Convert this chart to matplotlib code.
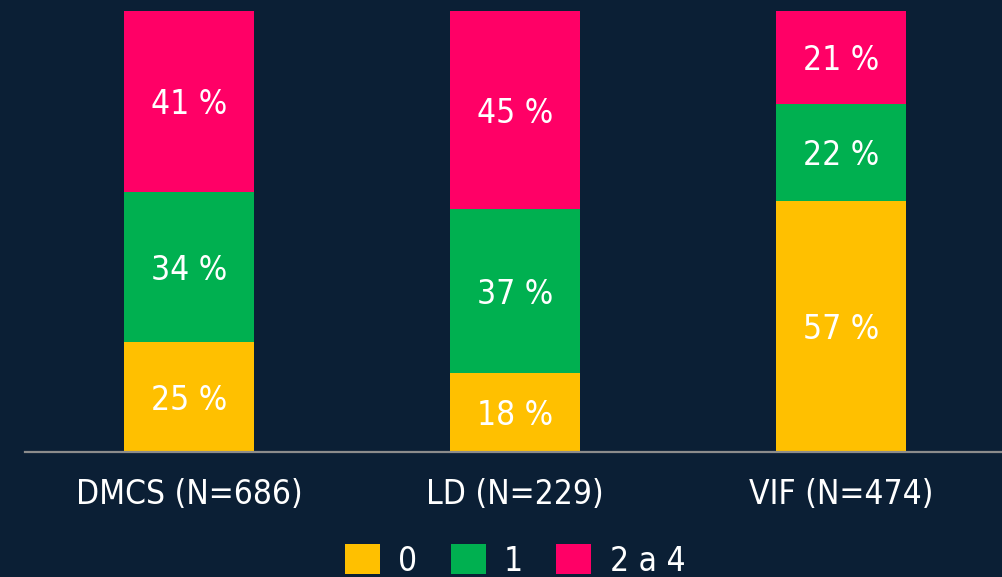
import matplotlib
matplotlib.use("Agg")
import matplotlib.pyplot as plt
from matplotlib.patches import Patch

categories = ["DMCS (N=686)", "LD (N=229)", "VIF (N=474)"]
series_names = ["0", "1", "2 a 4"]
vals_0 = [25, 18, 57]
vals_1 = [34, 37, 22]
vals_2a4 = [41, 45, 21]
colors = ["#FFC000", "#00B050", "#FF0066"]
bg = "#0B1F35"

plt.rcParams['font.family'] = ['DejaVu Sans']
fs = 24
fstretch = 'condensed'

fig = plt.figure(figsize=(10.03, 5.77), dpi=100, facecolor=bg)
ax = fig.add_axes([25/1003, 1-452/577, 1-25/1003, (452-11)/577])
ax.set_facecolor(bg)

x = list(range(len(categories)))
bottom = [0]*len(categories)
handles = []
for name, vals, c in zip(series_names, [vals_0, vals_1, vals_2a4], colors):
    ax.bar(x, vals, width=0.4, bottom=bottom, color=c, zorder=2)
    for xi, b, v in zip(x, bottom, vals):
        ax.text(xi, b + v/2, f"{v} %", ha='center', va='center_baseline', color='white',
                fontsize=fs, fontstretch=fstretch)
    bottom = [b + v for b, v in zip(bottom, vals)]
    handles.append(Patch(facecolor=c, edgecolor='none', label=name))

ax.set_xlim(-0.503, 2.497)
ax.set_ylim(0, 100)
ax.set_xticks(x)
ax.set_xticklabels(categories, color='white', fontsize=fs, fontstretch=fstretch)
ax.tick_params(axis='x', length=0, pad=19)
ax.set_yticks([])
for s in ['top', 'left', 'right']:
    ax.spines[s].set_visible(False)
ax.spines['bottom'].set_color('#8C8C8C')
ax.spines['bottom'].set_linewidth(1.6)
ax.spines['bottom'].set_zorder(3)

leg = fig.legend(handles=handles, loc='center', bbox_to_anchor=(515/1003, 1-561/577),
                 ncol=3, frameon=False, handlelength=1.05, handleheight=1.0,
                 handletextpad=0.55, columnspacing=1.0,
                 prop={'size': fs, 'stretch': fstretch})
for t in leg.get_texts():
    t.set_color('white')

fig.savefig("out.png", dpi=100, facecolor=bg)
